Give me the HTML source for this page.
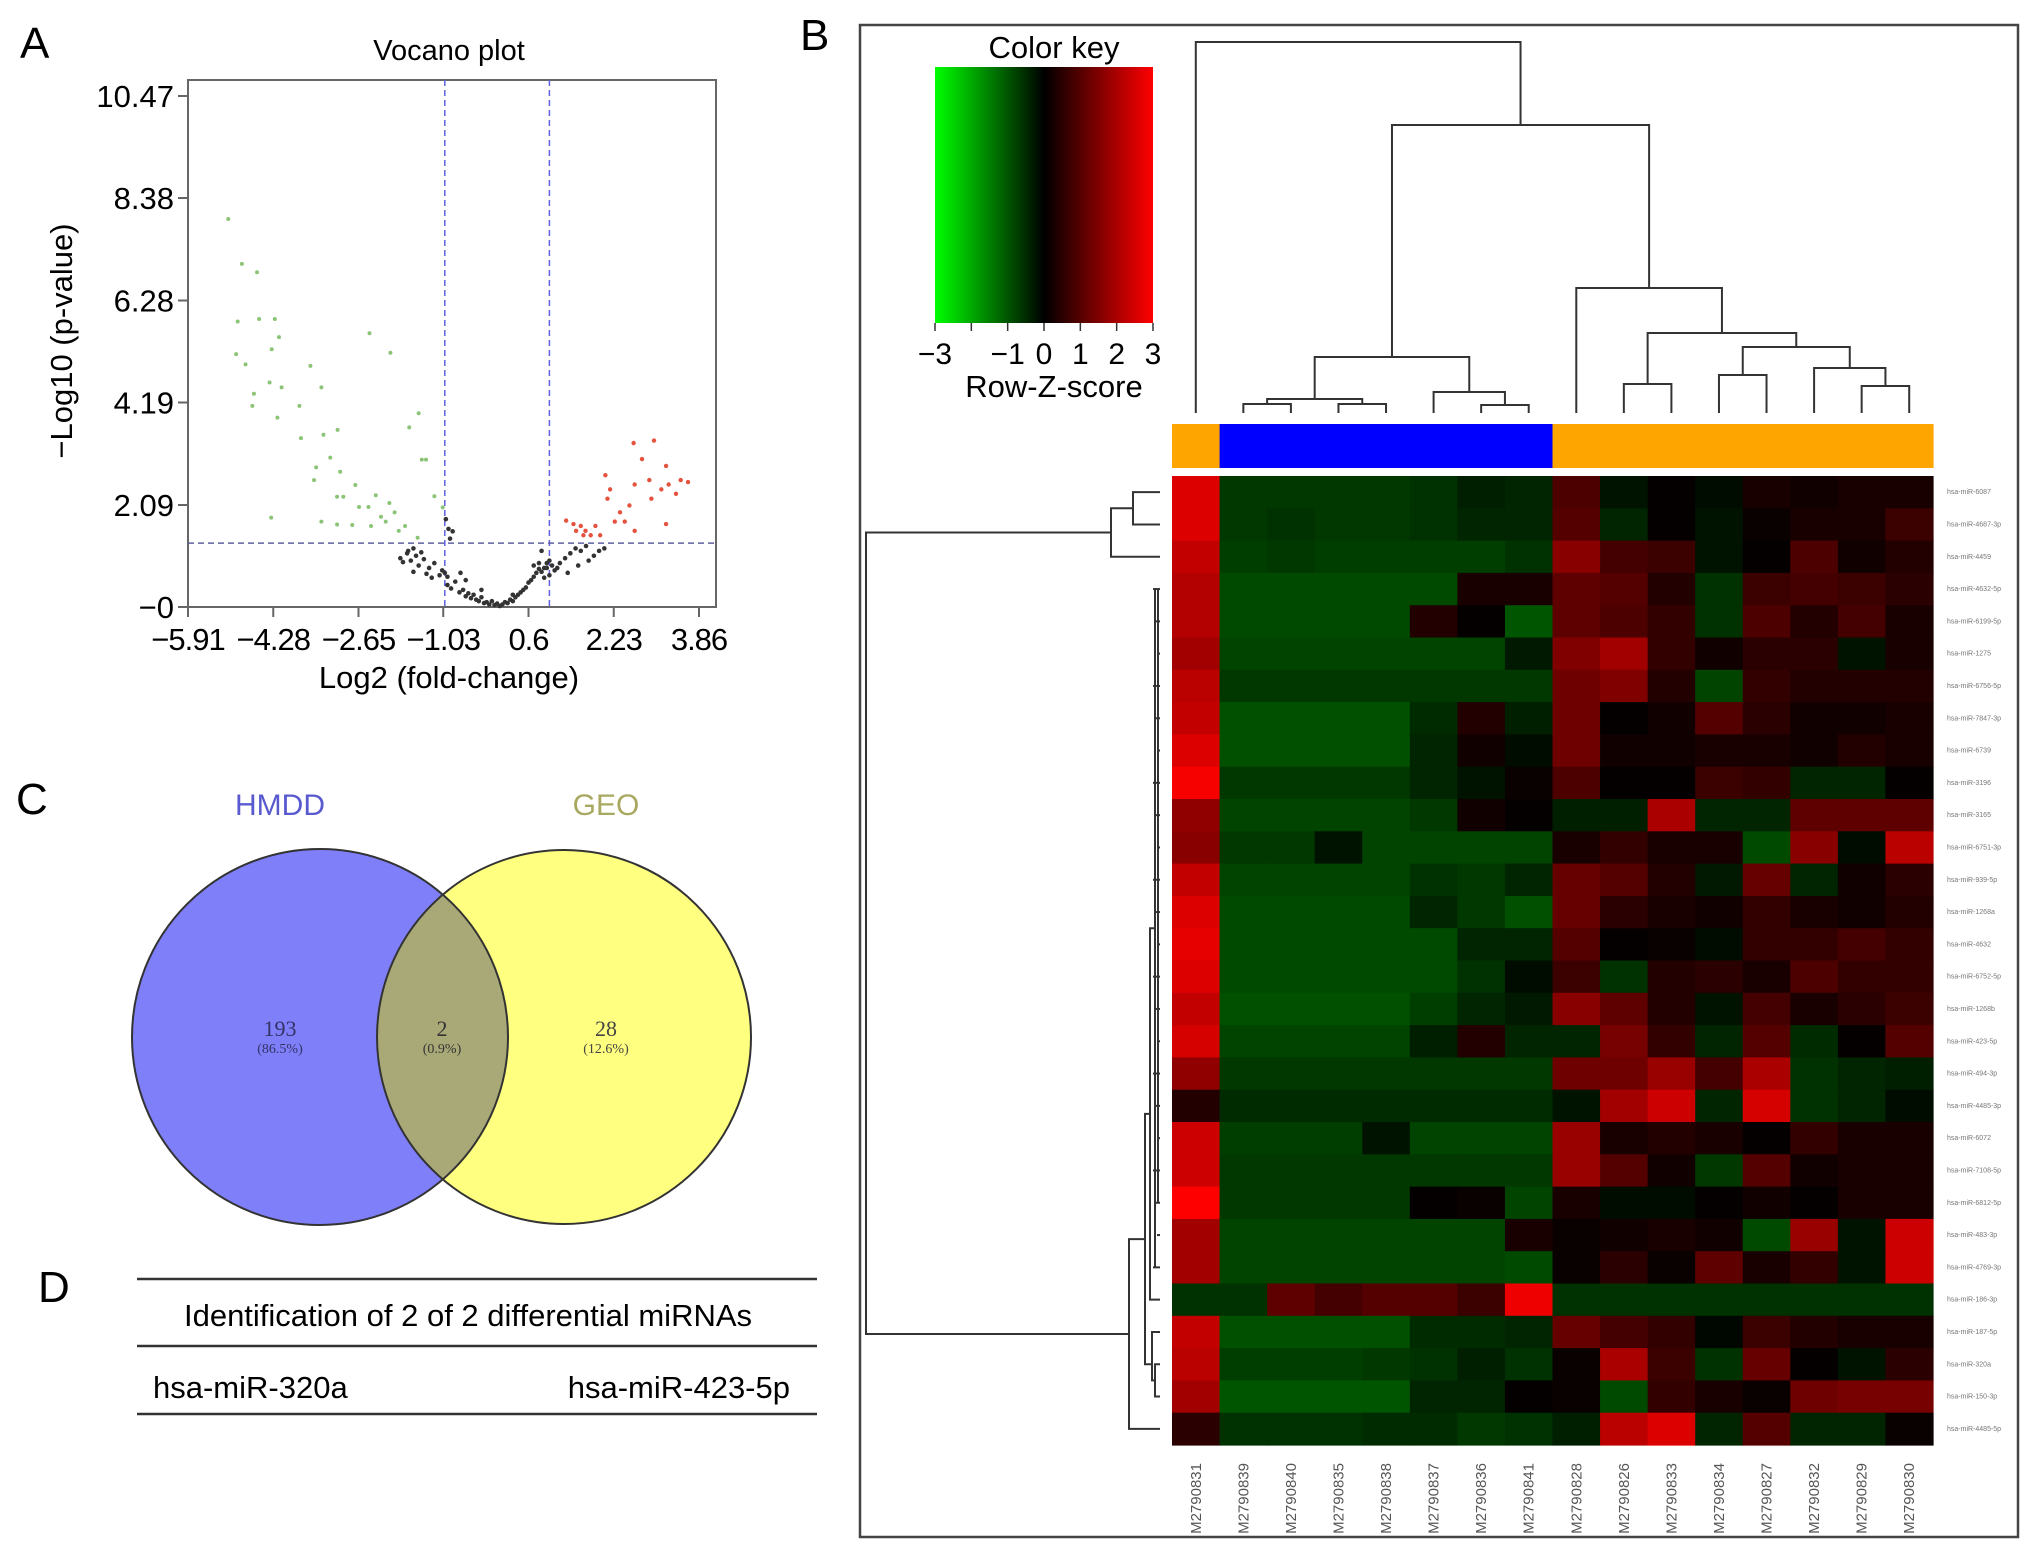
<!DOCTYPE html>
<html><head><meta charset="utf-8"><style>
html,body{margin:0;padding:0;background:#fff;}
svg{display:block;font-family:"Liberation Sans",Arial,sans-serif;}
</style></head><body>
<svg id="fig" width="2032" height="1550" viewBox="0 0 2032 1550" xmlns="http://www.w3.org/2000/svg">
<rect width="2032" height="1550" fill="#fff"/>
<!-- Panel A -->
<g id="panelA">
<text x="20" y="58" font-size="44">A</text>
<text x="449" y="60" font-size="29" text-anchor="middle">Vocano plot</text>
<rect x="188" y="80" width="528" height="527" fill="none" stroke="#666" stroke-width="2"/>
<g id="aTicks"></g>
<g id="aGuides"></g>
<g id="aPoints"></g>
<text x="449" y="688" font-size="31" text-anchor="middle">Log2 (fold-change)</text>
<text transform="translate(72,341) rotate(-90)" font-size="31" text-anchor="middle">−Log10 (p-value)</text>
</g>
<!-- Panel C -->
<g id="panelC">
<text x="16" y="814" font-size="44">C</text>
<text x="280" y="815" font-size="30" fill="#5a5ad0" text-anchor="middle">HMDD</text>
<text x="606" y="815" font-size="30" fill="#a8a860" text-anchor="middle">GEO</text>
<defs><clipPath id="clipL"><circle cx="320" cy="1037" r="188"/></clipPath></defs>
<circle cx="320" cy="1037" r="188" fill="#7f7ff9"/>
<circle cx="564" cy="1037" r="187" fill="#ffff80"/>
<circle cx="564" cy="1037" r="187" fill="#a9a978" clip-path="url(#clipL)"/>
<circle cx="320" cy="1037" r="188" fill="none" stroke="#333" stroke-width="2"/>
<circle cx="564" cy="1037" r="187" fill="none" stroke="#333" stroke-width="2"/>
<g font-family="'Liberation Serif',serif" text-anchor="middle">
<text x="280" y="1036" font-size="22" fill="#333366">193</text>
<text x="280" y="1053" font-size="14" fill="#333366">(86.5%)</text>
<text x="442" y="1036" font-size="22" fill="#333">2</text>
<text x="442" y="1053" font-size="14" fill="#333">(0.9%)</text>
<text x="606" y="1036" font-size="22" fill="#444">28</text>
<text x="606" y="1053" font-size="14" fill="#444">(12.6%)</text>
</g>
</g>
<!-- Panel D -->
<g id="panelD">
<text x="38" y="1302" font-size="44">D</text>
<line x1="137" y1="1279" x2="817" y2="1279" stroke="#333" stroke-width="2.5"/>
<line x1="137" y1="1346" x2="817" y2="1346" stroke="#333" stroke-width="2.5"/>
<line x1="137" y1="1414" x2="817" y2="1414" stroke="#333" stroke-width="2.5"/>
<text x="468" y="1326" font-size="31" text-anchor="middle">Identification of 2 of 2 differential miRNAs</text>
<text x="153" y="1398" font-size="31">hsa-miR-320a</text>
<text x="790" y="1398" font-size="31" text-anchor="end">hsa-miR-423-5p</text>
</g>
<!-- Panel B -->
<g id="panelB">
<text x="800" y="50" font-size="44">B</text>
<rect x="860" y="25" width="1158" height="1512" fill="none" stroke="#444" stroke-width="2.5"/>
<text x="1054" y="58" font-size="31" text-anchor="middle">Color key</text>
<defs><linearGradient id="ck" x1="0" x2="1" y1="0" y2="0">
<stop offset="0" stop-color="#00ff00"/><stop offset="0.5" stop-color="#000"/><stop offset="1" stop-color="#ff0000"/></linearGradient></defs>
<rect x="935" y="67" width="218" height="256" fill="url(#ck)"/>
<g id="ckTicks"></g>
<text x="1054" y="397" font-size="31" text-anchor="middle">Row-Z-score</text>
<g id="dendro" fill="none" stroke="#333" stroke-width="2"></g>
<g id="groupBar"></g>
<g id="heat"></g>
<g id="rowLabels"></g>
<g id="colLabels"></g>
</g>
</svg>
<script>
// ===== Volcano data =====
const xTickVals = [-5.91,-4.28,-2.65,-1.03,0.6,2.23,3.86];
const yTickVals = [0,2.09,4.19,6.28,8.38,10.47];
const yTickLabels = ["−0","2.09","4.19","6.28","8.38","10.47"];
const xTickLabels = ["−5.91","−4.28","−2.65","−1.03","0.6","2.23","3.86"];
const fcCutoffs = [-1,1];
const pCutoff = 1.31;
const downX = [-5.14,-4.88,-4.59,-4.96,-4.55,-4.25,-4.17,-4.99,-4.81,-4.31,-3.57,-4.65,-4.35,-4.12,-3.36,-4.68,-3.78,-4.20,-3.75,-3.32,-3.05,-3.19,-3.46,-3.00,-2.71,-3.50,-3.06,-2.94,-2.32,-2.46,-2.06,-1.52,-1.50,-1.68,-1.44,-1.36,-1.20,-1.04,-2.44,-2.04,-4.32,-3.36,-3.06,-2.77,-2.41,-2.13,-1.96,-1.76,-2.22,-2.64,-1.88];
const downY = [7.95,7.03,6.86,5.85,5.90,5.90,5.53,5.18,4.97,5.28,4.94,4.37,4.60,4.50,4.50,4.12,4.12,3.88,3.46,3.53,3.63,3.06,2.86,2.77,2.50,2.60,2.26,2.26,2.29,2.05,2.13,1.42,3.97,3.68,3.02,3.02,2.27,2.04,5.61,5.21,1.83,1.75,1.69,1.68,1.66,1.75,1.94,1.66,1.85,2.05,1.56];
const upX = [1.32,1.46,1.60,1.69,1.79,1.65,1.51,1.88,2.07,2.11,2.16,2.25,2.44,2.53,2.63,2.61,2.77,2.91,3.00,2.95,3.14,3.23,3.28,3.42,3.51,3.65,3.23,2.63,1.97,2.35];
const upY = [1.77,1.70,1.66,1.56,1.47,1.47,1.56,1.66,2.70,2.22,2.41,1.75,1.75,2.08,2.51,3.36,3.03,2.60,3.41,2.22,2.41,2.89,2.51,2.32,2.60,2.56,1.70,1.56,1.47,1.94];
const nsX = [-1.85,-1.8,-1.72,-1.65,-1.6,-1.55,-1.5,-1.45,-1.4,-1.6,-1.35,-1.25,-1.1,-1.05,-1.0,-0.95,-0.98,-0.93,-0.85,-0.95,-0.88,-0.8,-0.72,-0.65,-0.6,-0.55,-0.5,-0.45,-0.4,-0.35,-0.3,-0.25,-0.2,-0.15,-0.1,-0.05,0.0,0.05,0.1,0.15,0.2,0.25,0.3,0.35,0.4,0.45,0.5,0.55,0.6,0.65,0.7,0.75,0.8,0.85,0.9,0.95,1.0,1.05,1.1,1.0,0.9,0.8,1.15,1.2,1.3,1.35,1.4,1.5,1.55,1.6,1.7,1.75,1.85,1.95,2.05,0.85,-0.7,-1.2,-0.3,0.3,-0.9,-0.6,0.7,0.95,-1.7,-1.3];
const nsY = [1.0,0.92,1.1,0.95,1.2,1.05,0.85,1.12,0.98,0.72,0.68,0.6,0.65,0.75,0.7,0.62,1.8,1.6,1.55,0.45,0.38,0.52,0.3,0.35,0.22,0.28,0.18,0.25,0.15,0.12,0.2,0.08,0.1,0.05,0.12,0.04,0.07,0.02,0.05,0.1,0.08,0.15,0.12,0.2,0.25,0.3,0.35,0.4,0.5,0.55,0.62,0.7,0.78,0.72,0.8,0.9,0.95,0.85,0.75,0.65,0.6,0.9,0.8,0.9,1.0,0.7,1.1,1.2,0.85,1.15,1.25,0.95,1.05,1.15,1.2,1.15,0.7,0.9,0.35,0.25,1.4,0.55,0.85,0.8,1.15,0.8];

const NS="http://www.w3.org/2000/svg";
function mk(tag, attrs, parent){const e=document.createElementNS(NS,tag);for(const k in attrs)e.setAttribute(k,attrs[k]);parent.appendChild(e);return e;}
const X0=188,X1=716,Y0=607,Y1=80;
const xs = v => 188 + (v - (-5.91)) / (3.86 - (-5.91)) * (699 - 188);
const ys = v => 607 - v / 10.47 * (607 - 96);

const aT=document.getElementById('aTicks');
xTickVals.forEach((v,i)=>{
  const l=mk('line',{x1:xs(v),x2:xs(v),y1:Y0,y2:Y0+10,stroke:'#666','stroke-width':2},aT);
  
  
  const t=mk('text',{x:xs(v),y:650,'font-size':31,'text-anchor':'middle','letter-spacing':'-1'},aT);
  t.textContent=xTickLabels[i];
  
  
});
yTickVals.forEach((v,i)=>{
  const l=mk('line',{x1:X0-10,x2:X0,y1:ys(v),y2:ys(v),stroke:'#666','stroke-width':2},aT);
  
  
  const t=mk('text',{x:X0-14,y:ys(v)+11,'font-size':31,'text-anchor':'end'},aT);
  t.textContent=yTickLabels[i];
  
  
});
const aG=document.getElementById('aGuides');
fcCutoffs.forEach(v=>{
  const l=mk('line',{x1:xs(v),x2:xs(v),y1:Y1,y2:Y0,stroke:'#6060e0','stroke-width':1.5,'stroke-dasharray':'6,4'},aG);
  
  
});
{const l=mk('line',{x1:X0,x2:X1,y1:ys(pCutoff),y2:ys(pCutoff),stroke:'#6060a0','stroke-width':1.5,'stroke-dasharray':'6,4'},aG);

}
const aP=document.getElementById('aPoints');
function pts(xa,ya,col,r,name){
  xa.forEach((x,i)=>{
    const c=mk('circle',{cx:xs(x),cy:ys(ya[i]),r:r,fill:col},aP);
    
    
  });
}
pts(nsX,nsY,'#333',2.3,'nonsignificant-point');
pts(downX,downY,'#8cc477',2.0,'downregulated-point');
pts(upX,upY,'#e5533f',2.2,'upregulated-point');

// ===== Heatmap data =====
const sampleNames = ["M2790831","M2790839","M2790840","M2790835","M2790838","M2790837","M2790836","M2790841","M2790828","M2790826","M2790833","M2790834","M2790827","M2790832","M2790829","M2790830"];
const sampleGroups = ["o","b","b","b","b","b","b","b","o","o","o","o","o","o","o","o"];
const mirnaNames = ["hsa-miR-6087","hsa-miR-4687-3p","hsa-miR-4459","hsa-miR-4632-5p","hsa-miR-6199-5p","hsa-miR-1275","hsa-miR-6756-5p","hsa-miR-7847-3p","hsa-miR-6739","hsa-miR-3196","hsa-miR-3165","hsa-miR-6751-3p","hsa-miR-939-5p","hsa-miR-1268a","hsa-miR-4632","hsa-miR-6752-5p","hsa-miR-1268b","hsa-miR-423-5p","hsa-miR-494-3p","hsa-miR-4485-3p","hsa-miR-6072","hsa-miR-7108-5p","hsa-miR-6812-5p","hsa-miR-483-3p","hsa-miR-4769-3p","hsa-miR-186-3p","hsa-miR-187-5p","hsa-miR-320a","hsa-miR-150-3p","hsa-miR-4485-5p"];
const zRow0=[2.6,-0.9,-0.9,-0.9,-0.9,-0.8,-0.5,-0.6,0.9,-0.3,0.05,-0.2,0.3,0.2,0.3,0.3];
const zRow1=[2.6,-0.9,-0.8,-0.9,-0.9,-0.8,-0.6,-0.6,1.0,-0.6,0.05,-0.3,0.1,0.3,0.3,0.7];
const zRow2=[2.3,-1.0,-0.9,-1.0,-1.0,-1.0,-1.0,-0.8,1.6,0.8,0.7,-0.3,0.05,0.9,0.2,0.4];
const zRow3=[2.1,-1.2,-1.2,-1.2,-1.2,-1.2,0.3,0.3,1.1,1.0,0.4,-0.8,0.7,0.8,0.7,0.5];
const zRow4=[2.1,-1.2,-1.2,-1.2,-1.2,0.4,0.05,-1.4,1.1,0.9,0.6,-0.8,0.9,0.4,0.8,0.3];
const zRow5=[1.9,-1.1,-1.1,-1.1,-1.1,-1.1,-1.1,-0.4,1.5,1.9,0.6,0.2,0.5,0.5,-0.3,0.3];
const zRow6=[2.2,-0.9,-0.9,-0.9,-0.9,-0.9,-0.9,-0.9,1.3,1.5,0.4,-1.1,0.6,0.4,0.4,0.4];
const zRow7=[2.3,-1.3,-1.3,-1.3,-1.3,-0.7,0.4,-0.5,1.3,0.05,0.2,1.0,0.5,0.2,0.2,0.3];
const zRow8=[2.6,-1.3,-1.3,-1.3,-1.3,-0.6,0.2,-0.2,1.3,0.2,0.2,0.3,0.3,0.2,0.4,0.3];
const zRow9=[2.9,-0.9,-0.9,-0.9,-0.9,-0.6,-0.3,0.1,0.9,0.05,0.05,0.7,0.6,-0.6,-0.6,0.05];
const zRow10=[1.7,-1.1,-1.1,-1.1,-1.1,-0.9,0.2,0.05,-0.5,-0.5,2.0,-0.6,-0.6,1.1,1.1,1.1];
const zRow11=[1.6,-0.9,-0.9,-0.3,-1.1,-1.1,-1.1,-1.1,0.3,0.6,0.3,0.3,-1.2,1.6,-0.2,2.2];
const zRow12=[2.3,-1.1,-1.1,-1.1,-1.1,-0.8,-0.9,-0.6,1.2,1.0,0.4,-0.4,1.2,-0.6,0.2,0.5];
const zRow13=[2.6,-1.2,-1.2,-1.2,-1.2,-0.6,-0.9,-1.3,1.2,0.5,0.3,0.2,0.6,0.3,0.2,0.4];
const zRow14=[2.7,-1.2,-1.2,-1.2,-1.2,-1.2,-0.6,-0.6,1.0,0.05,0.1,-0.2,0.6,0.6,0.8,0.6];
const zRow15=[2.6,-1.2,-1.2,-1.2,-1.2,-1.2,-0.8,-0.2,0.7,-0.8,0.4,0.5,0.3,0.9,0.6,0.6];
const zRow16=[2.3,-1.3,-1.3,-1.3,-1.3,-1.0,-0.6,-0.4,1.6,1.1,0.4,-0.3,0.8,0.3,0.5,0.7];
const zRow17=[2.5,-1.1,-1.1,-1.1,-1.1,-0.5,0.4,-0.6,-0.6,1.4,0.6,-0.6,1.0,-0.7,0.05,1.0];
const zRow18=[1.7,-0.9,-0.9,-0.9,-0.9,-0.9,-0.9,-0.9,1.3,1.3,1.8,0.8,2.0,-0.8,-0.6,-0.5];
const zRow19=[0.4,-0.7,-0.7,-0.7,-0.7,-0.7,-0.7,-0.7,-0.3,1.9,2.4,-0.6,2.5,-0.8,-0.6,-0.2];
const zRow20=[2.4,-1.0,-1.0,-1.0,-0.3,-1.1,-1.1,-1.1,1.8,0.3,0.4,0.3,0.05,0.6,0.3,0.3];
const zRow21=[2.4,-0.9,-0.9,-0.9,-0.9,-0.9,-0.9,-0.9,1.8,1.0,0.2,-0.9,1.0,0.2,0.3,0.3];
const zRow22=[3.0,-0.9,-0.9,-0.9,-0.9,0.05,0.1,-1.1,0.3,-0.2,-0.2,0.05,0.2,0.05,0.3,0.3];
const zRow23=[1.9,-1.1,-1.1,-1.1,-1.1,-1.1,-1.1,0.3,0.1,0.2,0.3,0.2,-1.2,1.8,-0.3,2.4];
const zRow24=[1.9,-1.1,-1.1,-1.1,-1.1,-1.1,-1.1,-1.2,0.1,0.5,0.1,1.1,0.3,0.6,-0.3,2.4];
const zRow25=[-0.8,-0.8,1.1,0.8,1.0,1.0,0.7,2.8,-0.8,-0.8,-0.8,-0.8,-0.8,-0.8,-0.8,-0.8];
const zRow26=[2.3,-1.3,-1.3,-1.3,-1.3,-0.7,-0.7,-0.6,1.2,0.8,0.6,-0.1,0.7,0.4,0.3,0.3];
const zRow27=[2.2,-1.0,-1.0,-1.0,-0.9,-0.8,-0.5,-0.8,0.1,2.0,0.7,-0.8,1.2,0.05,-0.3,0.5];
const zRow28=[1.9,-1.4,-1.4,-1.4,-1.4,-0.6,-0.6,0.05,0.1,-1.2,0.6,0.3,0.1,1.3,1.4,1.4];
const zRow29=[0.5,-0.8,-0.8,-0.8,-0.7,-0.7,-0.9,-0.8,-0.5,2.2,2.6,-0.6,1.0,-0.6,-0.6,0.1];
const zRows=[zRow0,zRow1,zRow2,zRow3,zRow4,zRow5,zRow6,zRow7,zRow8,zRow9,zRow10,zRow11,zRow12,zRow13,zRow14,zRow15,zRow16,zRow17,zRow18,zRow19,zRow20,zRow21,zRow22,zRow23,zRow24,zRow25,zRow26,zRow27,zRow28,zRow29];
const keyTickVals=[-3,-2,-1,0,1,2,3];
const keyTickLabels=["−3","","−1","0","1","2","3"];

const HX0=1172,HX1=1933,HY0=476,HY1=1445;
const cw=(HX1-HX0)/sampleNames.length, rh=(HY1-HY0)/mirnaNames.length;
const colX = j => HX0 + j*cw;
const rowY = i => HY0 + i*rh;
function zc(v){const t=Math.max(-3,Math.min(3,v))/3;return t>=0?`rgb(${Math.round(255*t)},0,0)`:`rgb(0,${Math.round(-185*t)},0)`;}

const heat=document.getElementById('heat');
zRows.forEach((row,i)=>row.forEach((v,j)=>{
  const r=mk('rect',{x:colX(j),y:rowY(i),width:cw+0.6,height:rh+0.6,fill:zc(v)},heat);
  
  
}));
const gb=document.getElementById('groupBar');
sampleGroups.forEach((g,j)=>{
  const r=mk('rect',{x:colX(j),y:424,width:cw+0.6,height:44,fill:g==='b'?'#0000ff':'#ffa500'},gb);
  
  
});
const rl=document.getElementById('rowLabels');
mirnaNames.forEach((n,i)=>{
  const t=mk('text',{x:1947,y:rowY(i)+rh/2+2,'font-size':7,fill:'#777'},rl);
  t.textContent=n;
  
  
});
const cl=document.getElementById('colLabels');
sampleNames.forEach((n,j)=>{
  const cx=colX(j)+cw/2+5;
  const t=mk('text',{transform:`translate(${cx},1463) rotate(-90)`,'font-size':15,fill:'#555','text-anchor':'end'},cl);
  t.textContent=n;
  
  
});
const ckT=document.getElementById('ckTicks');
keyTickVals.forEach((v,i)=>{
  const x=935+(v+3)/6*218;
  mk('line',{x1:x,x2:x,y1:323,y2:331,stroke:'#333','stroke-width':1.5},ckT);
  if(keyTickLabels[i]){
    const t=mk('text',{x:x,y:364,'font-size':30,'text-anchor':'middle'},ckT);
    t.textContent=keyTickLabels[i];
    
    
  }
});

// ===== Dendrograms =====
const dg=document.getElementById('dendro');
const cc = j => colX(j)+cw/2;
const rc = i => rowY(i)+rh/2;
function U(a,b,h,ya,yb){ mk('path',{d:`M${a},${ya}V${h}H${b}V${yb}`},dg); }
const LEAF=413;
const m12=(cc(1)+cc(2))/2, m34=(cc(3)+cc(4))/2, m1234=(m12+m34)/2;
U(cc(1),cc(2),404,LEAF,LEAF); U(cc(3),cc(4),404,LEAF,LEAF); U(m12,m34,399,404,404);
const m67=(cc(6)+cc(7))/2; U(cc(6),cc(7),405,LEAF,LEAF);
const m567=(cc(5)+m67)/2; U(cc(5),m67,392,LEAF,405);
const mL=(m1234+m567)/2; U(m1234,m567,357,399,392);
const m910=(cc(9)+cc(10))/2; U(cc(9),cc(10),384,LEAF,LEAF);
const m1112=(cc(11)+cc(12))/2; U(cc(11),cc(12),375,LEAF,LEAF);
const m1415=(cc(14)+cc(15))/2; U(cc(14),cc(15),386,LEAF,LEAF);
const m1315=(cc(13)+m1415)/2; U(cc(13),m1415,368,LEAF,386);
const m1115=(m1112+m1315)/2; U(m1112,m1315,347,375,368);
const m915=(m910+m1115)/2; U(m910,m1115,333,384,347);
const mR=(cc(8)+m915)/2; U(cc(8),m915,288,LEAF,333);
const mLR=(mL+mR)/2; U(mL,mR,125,357,288);
U(cc(0),mLR,42,LEAF,125);
function V(ya,yb,x,xa,xb){ mk('path',{d:`M${xa},${ya}H${x}V${yb}H${xb}`},dg); }
const RL=1160;
V(rc(0),rc(1),1133,RL,RL);
const r01=(rc(0)+rc(1))/2;
V(r01,rc(2),1111,1133,RL);
const rTop=(r01+rc(2))/2;
for(let i=3;i<=24;i++){ mk('path',{d:`M${1153+(i%3)*2},${rc(i)}H${RL}`},dg); }
mk('path',{d:`M1155,${rc(3)}V${rc(24)}`},dg);
mk('path',{d:`M1158,${rc(3)}V${rc(22)}`},dg);
const rMid=(rc(3)+rc(24))/2;
V(rMid,rc(25),1150,1155,RL);
const r325=(rMid+rc(25))/2;
V(rc(27),rc(28),1155,RL,RL);
V(rc(26),(rc(27)+rc(28))/2,1152,RL,1155);
const r2628=(rc(26)+rc(28))/2;
V(r325,r2628,1145,1150,1152);
const rB=(r325+r2628)/2;
V(rB,rc(29),1129,1145,RL);
const rBot=(rB+rc(29))/2;
V(rTop,rBot,866,1111,1129);
</script>
</body></html>
